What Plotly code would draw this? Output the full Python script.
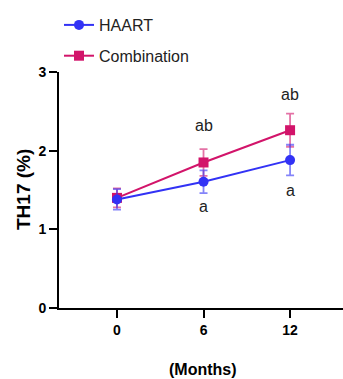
import plotly.graph_objects as go

months = [0, 6, 12]
tick_labels = ["0", "6", "12"]
haart = [1.38, 1.605, 1.88]
haart_err = [0.13, 0.145, 0.195]
combo = [1.40, 1.85, 2.26]
combo_err = [0.12, 0.17, 0.21]
sig_x = [6, 12, 6, 12]
sig_y = [2.32, 2.71, 1.29, 1.50]
sig_text = ["ab", "ab", "a", "a"]

BLUE = "#3232F5"
MAG = "#D2146A"
FONT = "Liberation Sans, Arial, sans-serif"

fig = go.Figure()
fig.add_trace(go.Scatter(
    x=months, y=combo, name="Combination", mode="lines+markers", legendgroup="b", legendrank=2,
    line=dict(color=MAG, width=2),
    marker=dict(symbol="square", size=10, color=MAG),
    error_y=dict(type="data", array=combo_err, color="rgba(210,20,106,0.6)", thickness=1.8, width=4),
))
fig.add_trace(go.Scatter(
    x=months, y=haart, name="HAART", mode="lines+markers", legendgroup="a", legendrank=1,
    line=dict(color=BLUE, width=2),
    marker=dict(symbol="circle", size=10, color=BLUE),
    error_y=dict(type="data", array=haart_err, color="rgba(50,50,245,0.6)", thickness=1.8, width=4),
))

for x, y, t in zip(sig_x, sig_y, sig_text):
    fig.add_annotation(x=x, y=y, text=t, showarrow=False,
                       font=dict(family=FONT, size=16, color="#222"))

# axis titles
fig.add_annotation(xref="paper", yref="paper", x=(203 - 59) / 284, y=(308 - 369) / 236,
                   text="<b>(Months)</b>", showarrow=False, xanchor="center", yanchor="middle",
                   font=dict(family=FONT, size=16, color="black"))
fig.add_annotation(xref="paper", yref="paper", x=(23 - 59) / 284, y=0.5,
                   text="<b>TH17 (%)</b>", showarrow=False, textangle=-90,
                   xanchor="center", yanchor="middle",
                   font=dict(family=FONT, size=19, color="black"))

fig.update_layout(
    width=343, height=379,
    margin=dict(l=59, r=0, t=72, b=71, autoexpand=False),
    paper_bgcolor="white", plot_bgcolor="white",
    showlegend=True,
    legend=dict(x=0.0, xanchor="left", y=(308 - 8) / 236, yanchor="top", yref="paper",
                traceorder="grouped", tracegroupgap=7,
                font=dict(family=FONT, size=16, color="#222"),
                bgcolor="rgba(0,0,0,0)"),
    xaxis=dict(range=[-4.02, 15.67], tickvals=months, ticktext=tick_labels, automargin=False,
               showline=True, linecolor="black", linewidth=2, showgrid=False, zeroline=False,
               ticks="outside", ticklen=8, tickwidth=2, tickcolor="black",
               tickfont=dict(family=FONT, size=14, color="black", weight="bold")),
    yaxis=dict(range=[0, 3], tickvals=[0, 1, 2, 3], automargin=False,
               showline=True, linecolor="black", linewidth=2, showgrid=False, zeroline=False,
               ticks="outside", ticklen=8, tickwidth=2, tickcolor="black",
               tickfont=dict(family=FONT, size=14, color="black", weight="bold")),
)

fig.write_html("out.html", config={"displayModeBar": False},
               post_script="document.body.style.margin='0';")
